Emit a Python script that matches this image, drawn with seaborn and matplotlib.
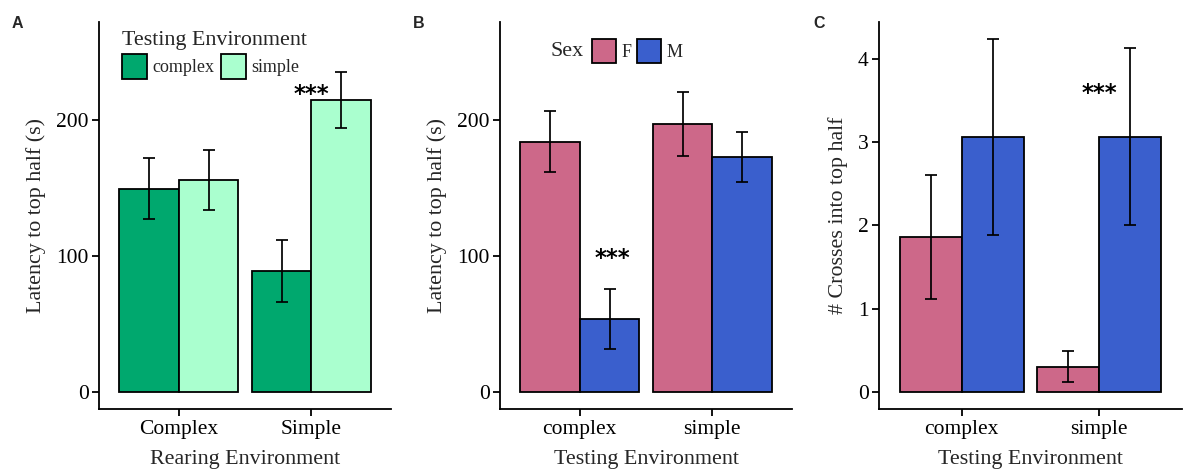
import numpy as np
import pandas as pd
import matplotlib
matplotlib.use("Agg")
import matplotlib.pyplot as plt
from matplotlib.patches import Patch
import seaborn as sns

# ---------------- data ----------------
rearing_env = ["Complex", "Simple"]
testing_env = ["complex", "simple"]
sexes = ["F", "M"]

# Panel A: latency by rearing env (x) and testing env (hue)
a_mean_complex = [149.5, 88.9]   # testing complex, for rearing Complex / Simple
a_mean_simple = [155.6, 214.7]   # testing simple
a_se_complex = [22.3, 22.5]
a_se_simple = [22.1, 20.3]

# Panel B: latency by testing env (x) and sex (hue)
b_mean_F = [184.0, 197.2]
b_mean_M = [53.7, 172.9]
b_se_F = [22.4, 23.6]
b_se_M = [22.3, 18.3]

# Panel C: crosses into top half
c_mean_F = [1.86, 0.30]
c_mean_M = [3.07, 3.07]
c_se_F = [0.75, 0.19]
c_se_M = [1.18, 1.065]

green_pal = ["#00A86E", "#AAFFCF"]
sex_pal = ["#CD6889", "#3A5FCD"]

# ---------------- style ----------------
sns.set_theme(style="ticks")
plt.rcParams["font.family"] = ["Liberation Serif", "DejaVu Sans"]
LW = 1.3
plt.rcParams["axes.linewidth"] = LW
plt.rcParams["xtick.major.width"] = LW
plt.rcParams["ytick.major.width"] = LW
plt.rcParams["xtick.major.size"] = 5.0
plt.rcParams["ytick.major.size"] = 5.0
plt.rcParams["xtick.color"] = "black"
plt.rcParams["ytick.color"] = "black"
plt.rcParams["axes.edgecolor"] = "black"

W, H = 1183, 469
fig = plt.figure(figsize=(W / 100, H / 100), dpi=100)


def px_axes(left, right, top, bottom):
    return fig.add_axes([left / W, 1 - bottom / H, (right - left) / W, (bottom - top) / H])


axA = px_axes(99, 391, 22, 409)
axB = px_axes(500, 792, 22, 409)
axC = px_axes(879, 1182, 22, 409)

LAB = 15.8
TICK = 15.5
LEG = 13.0


def draw_panel(ax, cats, hue_levels, means, ses, palette, xlabel, ylabel):
    rows = []
    for h, (m_list, s_list) in zip(hue_levels, zip(means, ses)):
        for c, m, s in zip(cats, m_list, s_list):
            rows.append({"x": c, "hue": h, "mean": m, "se": s})
    df = pd.DataFrame(rows)
    sns.barplot(data=df, x="x", y="mean", hue="hue", order=cats, hue_order=hue_levels,
                palette=palette, width=0.9, gap=0, errorbar=None, edgecolor="black",
                linewidth=LW, saturation=1, legend=False, ax=ax)
    for cont, h in zip(ax.containers, hue_levels):
        sub = df[df["hue"] == h].set_index("x").loc[cats]
        xs = [b.get_x() + b.get_width() / 2 for b in cont]
        ax.errorbar(xs, sub["mean"].values, yerr=sub["se"].values, fmt="none",
                    ecolor="black", elinewidth=1.25, capsize=4.3, capthick=1.25, zorder=5)
    ax.set_xlim(-0.6, 1.6)
    ax.set_xlabel(xlabel, fontsize=LAB, labelpad=7.5)
    ax.set_ylabel(ylabel, fontsize=LAB, labelpad=7)
    ax.tick_params(axis="y", labelsize=TICK, pad=2.5)
    ax.tick_params(axis="x", labelsize=TICK, pad=3.0)
    sns.despine(ax=ax)
    return df


draw_panel(axA, rearing_env, testing_env, [a_mean_complex, a_mean_simple],
           [a_se_complex, a_se_simple], green_pal, "Rearing Environment",
           "Latency to top half (s)")
axA.set_ylim(-12.5, 272)
axA.set_yticks([0, 100, 200])

draw_panel(axB, testing_env, sexes, [b_mean_F, b_mean_M], [b_se_F, b_se_M],
           sex_pal, "Testing Environment", "Latency to top half (s)")
axB.set_ylim(-12.5, 272)
axB.set_yticks([0, 100, 200])

draw_panel(axC, testing_env, sexes, [c_mean_F, c_mean_M], [c_se_F, c_se_M],
           sex_pal, "Testing Environment", "# Crosses into top half")
axC.set_ylim(-0.21, 4.45)
axC.set_yticks([0, 1, 2, 3, 4])

# significance stars
star_kw = dict(ha="center", va="baseline", fontsize=16.5, family="DejaVu Sans",
               color="black", fontweight="bold")
axA.text(1.0, 214.0, "***", **star_kw)
axB.text(0.25, 93.5, "***", **star_kw)
axC.text(1.0, 3.51, "***", **star_kw)

# legends
hA = [Patch(facecolor=c, edgecolor="black", linewidth=LW) for c in green_pal]
axA.legend(hA, testing_env, title="Testing Environment", ncol=2,
           loc="upper left", bbox_to_anchor=(122 / W, 1 - 31 / H),
           bbox_transform=fig.transFigure, frameon=False, borderpad=0,
           fontsize=LEG, title_fontsize=LAB, handlelength=1.38, handleheight=1.75,
           handletextpad=0.3, columnspacing=0.35, alignment="left", borderaxespad=0,
           labelspacing=0.2)

hB = [Patch(facecolor=c, edgecolor="black", linewidth=LW) for c in sex_pal]
axB.legend(hB, sexes, ncol=2, loc="center left", bbox_to_anchor=(592 / W, 1 - 51 / H),
           bbox_transform=fig.transFigure, frameon=False, borderpad=0,
           fontsize=LEG, handlelength=1.33, handleheight=1.67,
           handletextpad=0.3, columnspacing=0.3, borderaxespad=0)
fig.text(550 / W, 1 - 51 / H, "Sex", fontsize=LAB, ha="left", va="center")

# panel labels
for x, lab in [(12, "A"), (413, "B"), (813, "C")]:
    fig.text(x / W, 1 - 28.3 / H, lab, fontsize=11.5, fontweight="bold",
             family="Liberation Sans", ha="left", va="baseline")

fig.savefig("out.png", dpi=100)
